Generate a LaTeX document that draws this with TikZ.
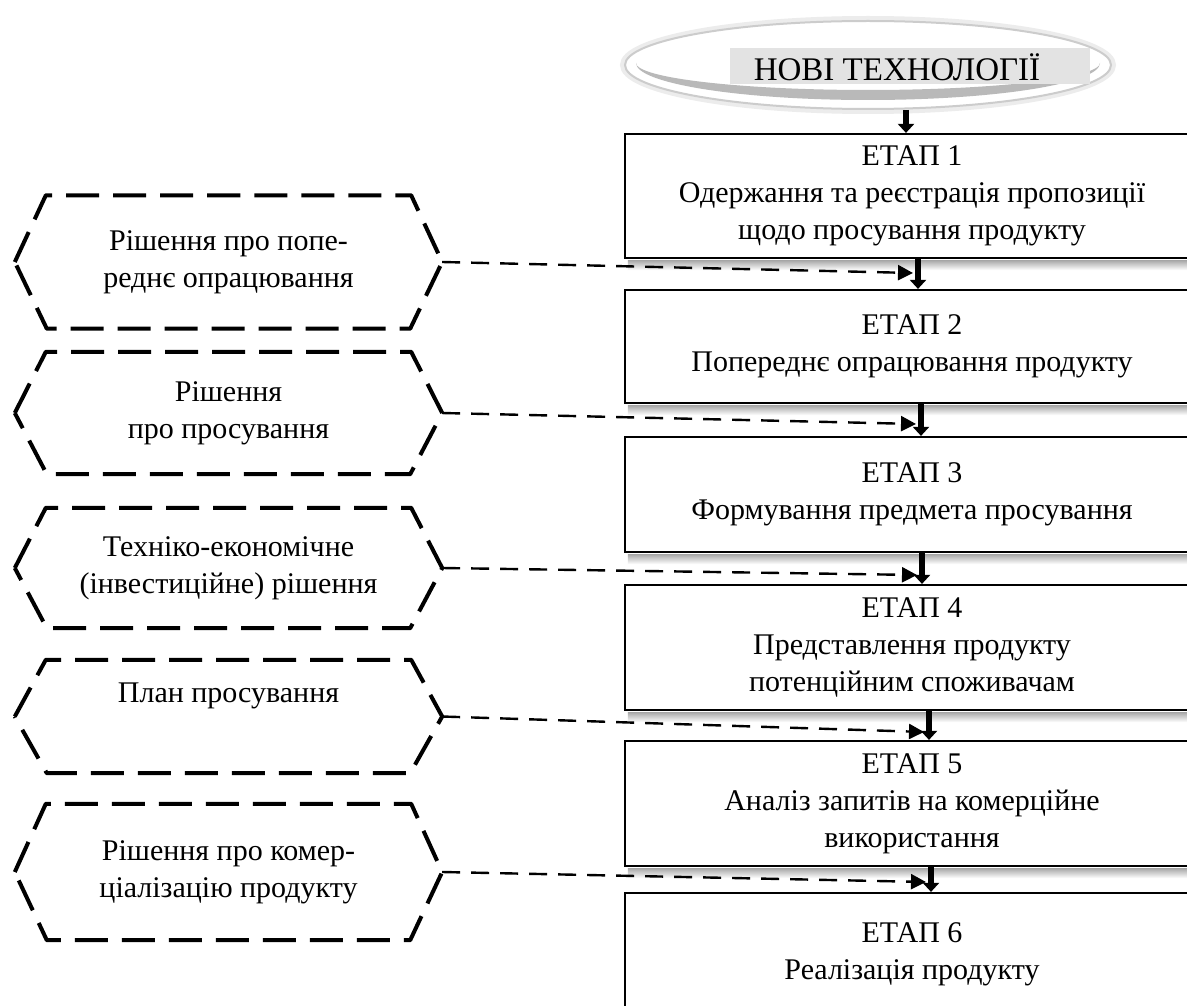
\documentclass[tikz,border=0pt]{standalone}
\usepackage{fontspec}
\setmainfont{Liberation Serif}
\usetikzlibrary{arrows.meta,shapes.geometric}
\begin{document}
\begin{tikzpicture}[x=1pt,y=-1pt,
  every node/.style={font=\fontsize{30}{37}\selectfont, inner sep=0pt},
  stagebox/.style={draw=black, line width=2.2pt, fill=white, minimum width=574pt, align=center},
  hexnode/.style={minimum width=427pt, align=center},
  hexline/.style={line width=4pt, dash pattern=on 33pt off 14pt, line join=round},
  flowarrow/.style={line width=6.5pt, -{Triangle[width=16pt,length=9pt]}},
  decarrow/.style={line width=2.4pt, dash pattern=on 18pt off 11pt, -{Triangle[width=15pt,length=15pt]}},
  bshade/.style={top color=gray!70, bottom color=white, draw=none}
]
\useasboundingbox (0,0) rectangle (1187,1006);
\fill[white] (0,0) rectangle (1187,1006);

% --- top ellipse "НОВІ ТЕХНОЛОГІЇ"
\draw[gray!15, line width=6pt] (868,65) ellipse [x radius=245, y radius=46];
\node[ellipse, draw=gray!40, line width=2pt, fill=white, minimum width=486pt, minimum height=88pt] (ell) at (868,65) {};
\fill[gray!55] (1100,63) arc[start angle=0, end angle=180, x radius=232, y radius=37]
   -- (636,63) arc[start angle=180, end angle=0, x radius=232, y radius=27] -- cycle;
\fill[gray!22] (730,48) rectangle (1090,84);
\node[font=\fontsize{33}{37}\selectfont] (nt) at (897,67) {НОВІ ТЕХНОЛОГІЇ};

% --- stage boxes
\node[stagebox, minimum height=124pt] (b1) at (912,196) {ЕТАП 1\\Одержання та реєстрація пропозиції\\щодо просування продукту};
\node[stagebox, minimum height=113pt] (b2) at (912,346.5) {ЕТАП 2\\Попереднє опрацювання продукту};
\node[stagebox, minimum height=115pt] (b3) at (912,494.5) {ЕТАП 3\\Формування предмета просування};
\node[stagebox, minimum height=125pt] (b4) at (912,647.5) {ЕТАП 4\\Представлення продукту\\потенційним споживачам};
\node[stagebox, minimum height=125pt] (b5) at (912,803.5) {ЕТАП 5\\Аналіз запитів на комерційне\\використання};
\node[stagebox, minimum height=122pt] (b6) at (912,954) {ЕТАП 6\\Реалізація продукту};

% shadows under boxes
\foreach \b in {b1,b2,b3,b4,b5}
  \shade[bshade] ([xshift=4pt,yshift=-1pt]\b.south west) rectangle ([yshift=-11pt]\b.south east);

% --- vertical flow arrows
\draw[flowarrow] ([xshift=-6pt]b1.north |- ell.south) -- ([xshift=-6pt]b1.north);
\draw[flowarrow] ([xshift=6pt]b1.south) -- ([xshift=6pt]b2.north);
\draw[flowarrow] ([xshift=9pt]b2.south) -- ([xshift=9pt]b3.north);
\draw[flowarrow] ([xshift=10pt]b3.south) -- ([xshift=10pt]b4.north);
\draw[flowarrow] ([xshift=17pt]b4.south) -- ([xshift=17pt]b5.north);
\draw[flowarrow] ([xshift=19pt]b5.south) -- ([xshift=19pt]b6.north);

% --- decision hexagons
\node[hexnode, minimum height=133pt] (h1) at (228.5,262) {Рішення про попе-\\реднє опрацювання};
\node[hexnode, minimum height=122pt] (h2) at (228.5,413) {Рішення\\про просування};
\node[hexnode, minimum height=120pt] (h3) at (228.5,568) {Техніко-економічне\\(інвестиційне) рішення};
\node[hexnode, minimum height=113pt] (h4) at (228.5,716.5) {План просування\\\strut};
\node[hexnode, minimum height=136pt] (h5) at (228.5,872) {Рішення про комер-\\ціалізацію продукту};

\foreach \h in {h1,h2,h3,h4,h5}
  \draw[hexline] (\h.west) -- ([xshift=31pt]\h.north west) -- ([xshift=-31pt]\h.north east)
     -- (\h.east) -- ([xshift=-32pt]\h.south east) -- ([xshift=32pt]\h.south west) -- cycle;

% --- dashed decision connectors
\coordinate (t1) at (913,273);
\coordinate (t2) at (916,424);
\coordinate (t3) at (917,575);
\coordinate (t4) at (924,732);
\coordinate (t5) at (926,882);
\draw[decarrow] (h1.east) -- (t1);
\draw[decarrow] (h2.east) -- (t2);
\draw[decarrow] (h3.east) -- (t3);
\draw[decarrow] (h4.east) -- (t4);
\draw[decarrow] (h5.east) -- (t5);
\end{tikzpicture}
\end{document}
